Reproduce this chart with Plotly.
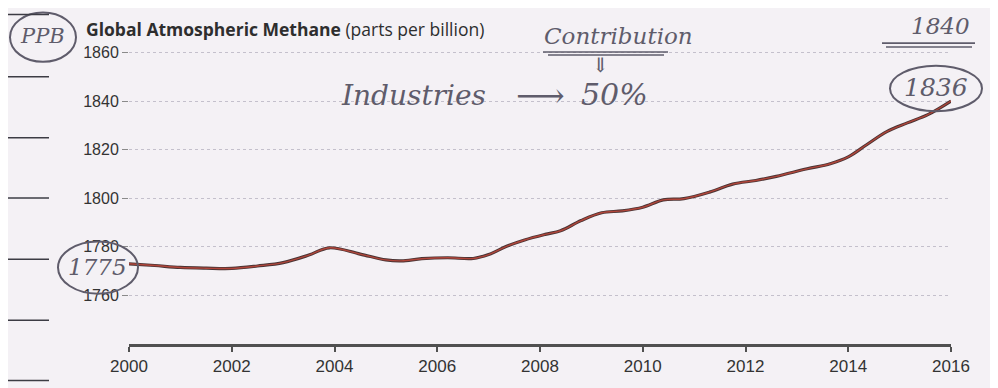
import plotly.graph_objects as go

# ---- data ----
years = [2000.0, 2000.5, 2001.0, 2001.5, 2002.0, 2002.5, 2003.0, 2003.5, 2003.9,
         2004.5, 2005.0, 2005.3, 2005.7, 2006.2, 2006.7, 2007.0, 2007.35, 2007.7,
         2008.1, 2008.4, 2008.8, 2009.2, 2009.6, 2010.0, 2010.4, 2010.8, 2011.3,
         2011.75, 2012.2, 2012.6, 2013.2, 2013.65, 2014.0, 2014.35, 2014.75,
         2015.15, 2015.55, 2016.0]
methane_ppb = [1773.0, 1772.3, 1771.5, 1771.2, 1771.1, 1772.1, 1773.5, 1776.6, 1779.6,
               1777.0, 1774.6, 1774.2, 1775.1, 1775.5, 1775.2, 1776.8, 1780.2, 1782.8,
               1785.1, 1786.6, 1790.8, 1794.0, 1794.8, 1796.3, 1799.3, 1799.8, 1802.5,
               1805.8, 1807.3, 1809.0, 1812.1, 1814.2, 1817.0, 1821.9, 1827.4,
               1831.0, 1834.4, 1840.0]
x_ticks = [2000, 2002, 2004, 2006, 2008, 2010, 2012, 2014, 2016]
y_ticks = [1760, 1780, 1800, 1820, 1840, 1860]

OFF = 8  # page body margin
W, H = 998 - OFF, 388 - OFF
L, T = 129 - OFF, 50 - OFF
R = W - (951 - OFF)
B = H - (348 - OFF)
PW, PH = W - L - R, H - T - B


def px(xp):  # page pixel -> paper fraction
    return (xp - OFF - L) / PW


def py(yp):
    return (H - B - (yp - OFF)) / PH


pen = "#5f5c6b"
hand = dict(family="DejaVu Serif, serif", color=pen, style="italic")

fig = go.Figure()
fig.add_trace(go.Scatter(x=years, y=methane_ppb, mode="lines",
                         line=dict(color="#4a3434", width=3.2, shape="spline"),
                         hoverinfo="skip", showlegend=False))
fig.add_trace(go.Scatter(x=years, y=methane_ppb, mode="lines",
                         line=dict(color="#b0453a", width=1.4, shape="spline"),
                         showlegend=False))

annotations = [
    dict(text="<b>Global Atmospheric Methane</b> (parts per billion)", x=px(84), y=py(29),
         xanchor="left", yanchor="middle",
         font=dict(family="Open Sans, sans-serif", size=17.5, color="#2e2e2e")),
    dict(text="PPB", x=px(42), y=py(36), font=dict(size=21, **hand)),
    dict(text="Contribution", x=px(618), y=py(36), font=dict(size=23, **hand)),
    dict(text="⇓", x=px(600), y=py(65), font=dict(size=20, **hand)),
    dict(text="Industries", x=px(413), y=py(96), font=dict(size=28, **hand)),
    dict(text="⟶", x=px(540), y=py(96), font=dict(size=34, **hand)),
    dict(text="50%", x=px(614), y=py(95), font=dict(size=30, **hand)),
    dict(text="1840", x=px(940), y=py(26), font=dict(size=23, **hand)),
    dict(text="1836", x=px(936), y=py(88), font=dict(size=25, **hand)),
    dict(text="1775", x=px(97), y=py(270), font=dict(size=23, **hand)),
]
for a in annotations:
    a.update(xref="paper", yref="paper", showarrow=False)
    a.setdefault("xanchor", "center")
    a.setdefault("yanchor", "middle")

shapes = []
for (x0, y0, x1, y1) in [(890, 66, 982, 112), (58, 244, 138, 297), (10, 12, 76, 62)]:
    shapes.append(dict(type="circle", xref="paper", yref="paper",
                       x0=px(x0), x1=px(x1), y0=py(y1), y1=py(y0),
                       line=dict(color=pen, width=2)))
for (x0, x1, yy) in [(543, 668, 52), (548, 664, 55), (882, 975, 43), (886, 972, 47)]:
    shapes.append(dict(type="line", xref="paper", yref="paper",
                       x0=px(x0), x1=px(x1), y0=py(yy), y1=py(yy),
                       line=dict(color=pen, width=1.6)))
for yy in [14, 77, 139, 200, 262, 324, 385]:
    shapes.append(dict(type="line", xref="paper", yref="paper",
                       x0=px(OFF), x1=px(49), y0=py(yy), y1=py(yy),
                       line=dict(color="#3c3c44", width=1.5)))

fig.update_layout(
    width=W, height=H,
    margin=dict(l=L, r=R, t=T, b=B),
    paper_bgcolor="#f4f1f5", plot_bgcolor="#f4f1f5",
    annotations=annotations, shapes=shapes,
    xaxis=dict(range=[2000, 2016], tickvals=x_ticks, ticktext=[str(v) for v in x_ticks],
               showgrid=False, zeroline=False, showline=True, linecolor="#505050", linewidth=2.5,
               ticks="outside", ticklen=5, tickcolor="#505050", tickwidth=1.5,
               tickfont=dict(family="Liberation Sans, Arial, sans-serif", size=17, color="#333333")),
    yaxis=dict(range=[1740, 1861], tickvals=y_ticks, ticktext=[str(v) for v in y_ticks],
               showgrid=True, gridcolor="#c4c0cc", griddash="dot", gridwidth=1,
               zeroline=False, showline=False,
               ticks="outside", ticklen=6, tickcolor="#8a8a8a", tickwidth=1,
               tickfont=dict(family="Liberation Sans, Arial, sans-serif", size=16, color="#333333")),
)

fig.write_html("out.html")
